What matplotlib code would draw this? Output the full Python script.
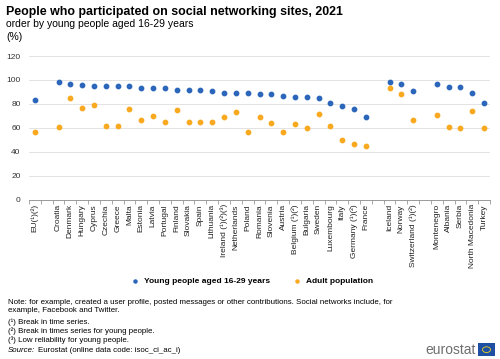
import numpy as np
import matplotlib
matplotlib.use('Agg')
import matplotlib.pyplot as plt
from matplotlib.patches import Rectangle, Circle

plt.rcParams['font.family'] = ['Liberation Sans', 'DejaVu Sans']

# categories, None marks a gap in the axis
countries = ['EU(¹)(²)', None,
             'Croatia', 'Denmark', 'Hungary', 'Cyprus', 'Czechia', 'Greece', 'Malta',
             'Estonia', 'Latvia', 'Portugal', 'Finland', 'Slovakia', 'Spain',
             'Lithuania', 'Ireland (¹)(²)(³)', 'Netherlands', 'Poland', 'Romania',
             'Slovenia', 'Austria', 'Belgium (¹)(²)', 'Bulgaria', 'Sweden',
             'Luxembourg', 'Italy', 'Germany (¹)(²)', 'France', None,
             'Iceland', 'Norway', 'Switzerland (¹)(²)', None,
             'Montenegro', 'Albania', 'Serbia', 'North Macedonia', 'Turkey']
young = [83, None,
         98, 97, 96, 95, 95, 95, 95, 93, 93, 93, 92, 92, 92, 91, 89, 89, 89, 88,
         88, 87, 86, 86, 85, 81, 78, 76, 69, None,
         98, 97, 91, None,
         97, 94, 94, 89, 81]
adult = [57, None,
         61, 85, 77, 79, 62, 62, 76, 67, 70, 65, 75, 65, 65, 65, 69, 73, 57, 69,
         64, 57, 63, 60, 72, 62, 50, 47, 45, None,
         93, 88, 67, None,
         71, 61, 60, 74, 60]

blue = '#2b66bb'
orange = '#f8a91f'

fig = plt.figure(figsize=(5.0, 3.59), dpi=100)
ax = fig.add_axes([0.058, 0.443, 0.922, 0.401])

x = np.arange(len(countries))
yv = np.array([np.nan if v is None else v for v in young], dtype=float)
av = np.array([np.nan if v is None else v for v in adult], dtype=float)
ax.scatter(x, yv, s=10, color=blue, zorder=3, label='Young people aged 16-29 years')
ax.scatter(x, av, s=10, color=orange, zorder=3, label='Adult population')

ax.set_xlim(-0.5, len(countries) - 0.5)
ax.set_ylim(0, 120)
ax.set_yticks(range(0, 121, 20))
ax.yaxis.grid(True, color='#e3e3e3', linewidth=0.7)
ax.set_axisbelow(True)
ax.tick_params(axis='y', length=0, labelsize=6, colors='#333333', pad=6)

ax.set_xticks(x)
ax.set_xticklabels(['' if c is None else c for c in countries], rotation=90,
                   fontsize=6, color='#222222')
ax.tick_params(axis='x', which='major', length=0, pad=3)
ax.set_xticks(np.arange(-0.5, len(countries), 1), minor=True)
ax.tick_params(axis='x', which='minor', length=3, color='#999999', width=0.6)

for s in ['top', 'right', 'left']:
    ax.spines[s].set_visible(False)
ax.spines['bottom'].set_color('#999999')
ax.spines['bottom'].set_linewidth(0.7)

fig.text(0.012, 0.966, 'People who participated on social networking sites, 2021',
         fontsize=8.9, fontweight='bold', color='#000000', va='center')
fig.text(0.012, 0.932, 'order by young people aged 16-29 years', fontsize=7.5, va='center')
fig.text(0.012, 0.896, '(%)', fontsize=7.5, va='center')

leg = fig.legend(loc='center', bbox_to_anchor=(0.5, 0.217), ncol=2, frameon=False,
                 fontsize=6, handletextpad=0.1, columnspacing=2.2, markerscale=0.7)
for t in leg.get_texts():
    t.set_fontweight('bold')

fs = 5.7
notes = ('Note: for example, created a user profile, posted messages or other contributions. '
         'Social networks include, for\nexample, Facebook and Twitter.')
fig.text(0.016, 0.146, notes, fontsize=fs, va='center', linespacing=1.35)
fig.text(0.016, 0.103, '(¹) Break in time series.', fontsize=fs, va='center')
fig.text(0.016, 0.078, '(²) Break in times series for young people.', fontsize=fs, va='center')
fig.text(0.016, 0.053, '(³) Low reliability for young people.', fontsize=fs, va='center')
fig.text(0.016, 0.023, 'Source:', fontsize=fs, va='center', style='italic')
fig.text(0.075, 0.023, 'Eurostat (online data code: isoc_ci_ac_i)', fontsize=fs, va='center')

fig.text(0.952, 0.024, 'eurostat', fontsize=10, color='#6e6e6e', va='center', ha='right')
fig.patches.append(Rectangle((0.956, 0.008), 0.034, 0.036, transform=fig.transFigure,
                             facecolor='#1e4fa3', edgecolor='none'))
fig.patches.append(Circle((0.973, 0.026), 0.008, transform=fig.transFigure,
                          facecolor='none', edgecolor='#f2d21b', linewidth=0.6))

fig.savefig('out.png', dpi=100)
